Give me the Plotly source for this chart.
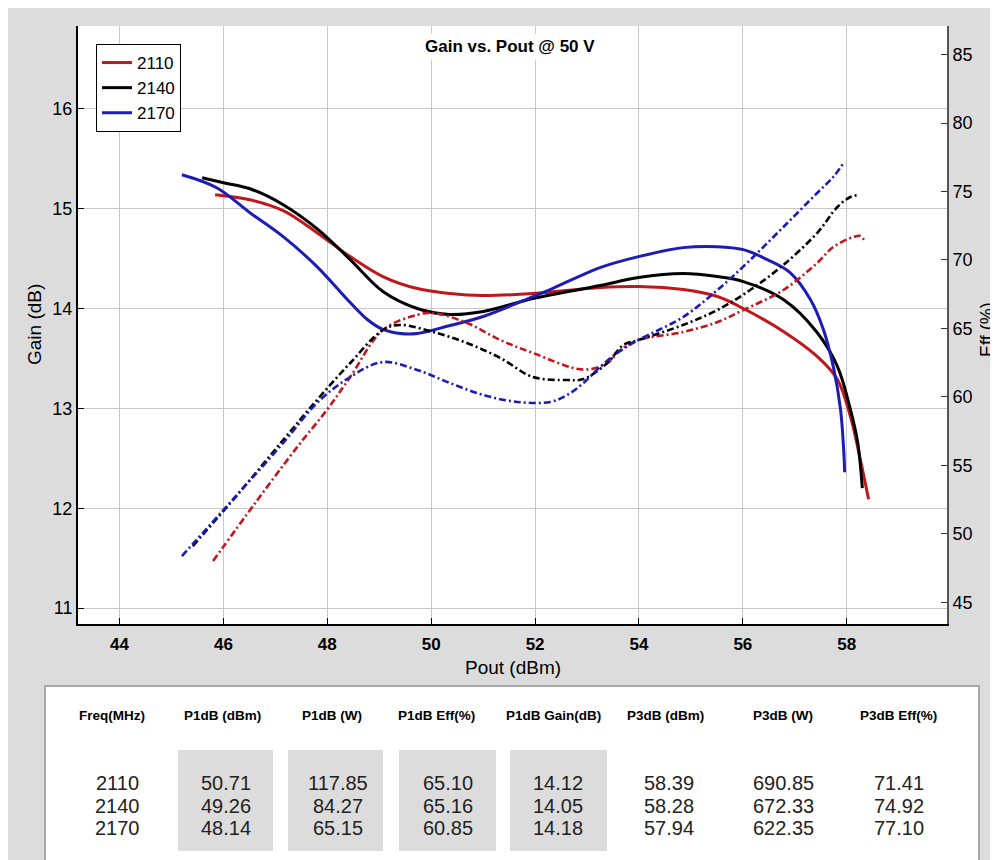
import plotly.graph_objects as go

# ---------------- data ----------------
freqs = ["2110", "2140", "2170"]

pout_gain_2110 = [45.84, 46.51, 47.15, 47.80, 48.44, 49.07, 49.73, 50.36, 51.00, 51.96, 53.25, 53.99,
                  54.85, 55.51, 56.01, 56.78, 57.43, 57.82, 58.07, 58.26, 58.42]
gain_2110 = [15.14, 15.09, 14.98, 14.76, 14.52, 14.32, 14.20, 14.15, 14.13, 14.15, 14.21, 14.22,
             14.19, 14.12, 14.00, 13.77, 13.52, 13.29, 12.92, 12.49, 12.09]

pout_gain_2140 = [45.59, 46.00, 46.51, 47.15, 47.80, 48.44, 49.07, 49.73, 50.36, 51.00, 51.96, 53.25,
                  53.99, 54.85, 55.51, 56.01, 56.78, 57.43, 57.82, 58.07, 58.21, 58.30]
gain_2140 = [15.31, 15.26, 15.20, 15.04, 14.80, 14.49, 14.17, 14.00, 13.94, 13.97, 14.10, 14.23,
             14.31, 14.35, 14.32, 14.27, 14.09, 13.76, 13.42, 12.99, 12.66, 12.20]

pout_gain_2170 = [45.20, 45.87, 46.51, 47.15, 47.80, 48.44, 48.77, 49.07, 49.40, 49.73, 50.36, 51.00,
                  51.96, 52.29, 53.25, 53.99, 54.85, 55.51, 56.01, 56.47, 56.91, 57.30, 57.55, 57.74,
                  57.88, 57.94, 57.96]
gain_2170 = [15.34, 15.21, 14.96, 14.72, 14.42, 14.06, 13.89, 13.79, 13.75, 13.75, 13.83, 13.92,
             14.12, 14.19, 14.41, 14.52, 14.61, 14.62, 14.59, 14.49, 14.36, 14.09, 13.79, 13.42,
             12.99, 12.59, 12.36]

pout_eff_2110 = [45.80, 46.60, 47.42, 47.99, 48.44, 49.07, 49.73, 50.04, 50.69, 51.33, 51.96, 52.93,
                 53.39, 53.64, 53.99, 54.85, 55.51, 56.01, 56.78, 57.43, 57.74, 58.13, 58.26, 58.36]
eff_2110 = [48.03, 52.2, 56.35, 59.05, 61.46, 64.89, 65.99, 66.13, 65.40, 64.16, 63.21, 62.00,
            62.48, 63.43, 64.16, 64.74, 65.47, 66.35, 67.81, 69.78, 70.95, 71.68, 71.75, 71.31]

pout_eff_2140 = [45.41, 46.30, 47.15, 47.80, 48.44, 49.07, 49.40, 50.04, 50.69, 51.33, 51.96, 52.62,
                 52.93, 53.39, 53.70, 53.99, 54.85, 55.51, 56.14, 56.78, 57.43, 57.82, 58.07, 58.21]
eff_2140 = [49.12, 53.0, 56.86, 59.78, 62.48, 64.89, 65.26, 64.74, 63.94, 62.85, 61.46, 61.24,
            61.31, 62.48, 63.80, 64.16, 65.26, 66.35, 67.81, 69.64, 71.97, 73.87, 74.60, 74.74]

pout_eff_2170 = [45.20, 46.20, 47.15, 47.80, 48.44, 49.07, 49.73, 50.36, 51.00, 51.66, 52.29, 52.62,
                 52.93, 53.25, 53.58, 53.99, 54.85, 55.51, 56.14, 56.78, 57.43, 57.74, 57.94]
eff_2170 = [48.39, 52.6, 56.64, 59.56, 61.46, 62.55, 61.97, 61.02, 60.15, 59.64, 59.64, 60.15,
            61.02, 62.19, 63.21, 64.16, 65.84, 67.81, 70.00, 72.41, 74.89, 76.06, 77.08]

x_ticks = [44, 46, 48, 50, 52, 54, 56, 58]
gain_ticks = [11, 12, 13, 14, 15, 16]
eff_ticks = [45, 50, 55, 60, 65, 70, 75, 80, 85]

table_headers = ["Freq(MHz)", "P1dB (dBm)", "P1dB (W)", "P1dB Eff(%)", "P1dB Gain(dB)",
                 "P3dB (dBm)", "P3dB (W)", "P3dB Eff(%)"]
p1db_dbm = ["50.71", "49.26", "48.14"]
p1db_w = ["117.85", "84.27", "65.15"]
p1db_eff = ["65.10", "65.16", "60.85"]
p1db_gain = ["14.12", "14.05", "14.18"]
p3db_dbm = ["58.39", "58.28", "57.94"]
p3db_w = ["690.85", "672.33", "622.35"]
p3db_eff = ["71.41", "74.92", "77.10"]

# ---------------- styling ----------------
RED = "#c2161c"
BLACK = "#000000"
BLUE = "#1c1cb6"
colors = [RED, BLACK, BLUE]
FONT = "Liberation Sans, Arial, sans-serif"

OFF = 8                      # browser body margin
W, H = 998 - OFF, 860 - OFF
PL, PR, PT, PB = 78, 947, 26, 624   # plot area in screen pixels
L, T = PL - OFF, PT - OFF
R = W - (PR - OFF)
B = H - (PB - OFF)
PW, PH = PR - PL, PB - PT


def px(xs):
    return (xs - PL) / PW


def py(ys):
    return (PB - ys) / PH


fig = go.Figure()

gain_x = [pout_gain_2110, pout_gain_2140, pout_gain_2170]
gain_y = [gain_2110, gain_2140, gain_2170]
eff_x = [pout_eff_2110, pout_eff_2140, pout_eff_2170]
eff_y = [eff_2110, eff_2140, eff_2170]

for i, f in enumerate(freqs):
    fig.add_trace(go.Scatter(x=gain_x[i], y=gain_y[i], mode="lines", name=f,
                             line=dict(color=colors[i], width=3, shape="spline", smoothing=1.0)))
for i, f in enumerate(freqs):
    fig.add_trace(go.Scatter(x=eff_x[i], y=eff_y[i], mode="lines", name=f + " eff", showlegend=False,
                             yaxis="y2",
                             line=dict(color=colors[i], width=2.6, dash="7px,3px,2px,3px",
                                       shape="spline", smoothing=1.0)))

shapes = []
# table box
shapes.append(dict(type="rect", xref="paper", yref="paper", x0=px(45), x1=px(979), y0=py(686), y1=py(880),
                   fillcolor="white", line=dict(color="#a8a8a8", width=2), layer="above"))
cell_cols = [(178, 273), (288, 383), (399, 496), (510, 607)]
for x0, x1 in cell_cols:
    shapes.append(dict(type="rect", xref="paper", yref="paper", x0=px(x0), x1=px(x1), y0=py(750), y1=py(851),
                       fillcolor="#dcdcdc", line=dict(width=0), layer="above"))

annotations = []
annotations.append(dict(text="<b>Gain vs. Pout @ 50 V</b>", xref="paper", yref="paper", x=px(510), y=py(47),
                        showarrow=False, font=dict(family=FONT, size=17, color="black"),
                        bgcolor="white", borderpad=3, xanchor="center", yanchor="middle"))
annotations.append(dict(text="Gain (dB)", xref="paper", yref="paper", x=px(34), y=py(325), textangle=-90,
                        showarrow=False, font=dict(family=FONT, size=19, color="black"),
                        xanchor="center", yanchor="middle"))
annotations.append(dict(text="Eff (%)", xref="paper", yref="paper", x=px(987), y=py(330), textangle=-90,
                        showarrow=False, font=dict(family=FONT, size=18, color="black"),
                        xanchor="center", yanchor="middle"))
annotations.append(dict(text="Pout (dBm)", xref="paper", yref="paper", x=px(513), y=py(667),
                        showarrow=False, font=dict(family=FONT, size=19, color="black"),
                        xanchor="center", yanchor="middle"))

header_x = [112, 222, 332, 436, 553, 665, 783, 898]
value_x = [117, 226, 338, 448, 558, 669, 783, 899]
row_y = [783, 806, 828]
columns = [freqs, p1db_dbm, p1db_w, p1db_eff, p1db_gain, p3db_dbm, p3db_w, p3db_eff]
for hx, h in zip(header_x, table_headers):
    annotations.append(dict(text="<b>" + h + "</b>", xref="paper", yref="paper", x=px(hx), y=py(716),
                            showarrow=False, font=dict(family=FONT, size=13.5, color="black"),
                            xanchor="center", yanchor="middle"))
for vx, col in zip(value_x, columns):
    for ry, v in zip(row_y, col):
        annotations.append(dict(text=v, xref="paper", yref="paper", x=px(vx), y=py(ry),
                                showarrow=False, font=dict(family=FONT, size=20, color="#222222"),
                                xanchor="center", yanchor="middle"))

fig.update_layout(
    width=W, height=H,
    margin=dict(l=L, r=R, t=T, b=B, pad=0),
    paper_bgcolor="#dcdcdc",
    plot_bgcolor="white",
    font=dict(family=FONT, color="black"),
    showlegend=True,
    legend=dict(x=px(96), y=py(44), xanchor="left", yanchor="top",
                bgcolor="white", bordercolor="black", borderwidth=1,
                font=dict(family=FONT, size=17, color="black"),
                tracegroupgap=0, itemwidth=30),
    xaxis=dict(range=[43.2, 59.93], tickvals=x_ticks, ticktext=[str(t) for t in x_ticks],
               showgrid=True, gridcolor="#c8c8c8", gridwidth=1,
               showline=True, linecolor="black", linewidth=2,
               ticks="inside", ticklen=6, tickcolor="black", tickwidth=1,
               tickfont=dict(family=FONT, size=17, color="black", weight="bold"),
               ticklabelstandoff=4, zeroline=False, mirror=False),
    yaxis=dict(range=[10.84, 16.83], tickvals=gain_ticks,
               showgrid=True, gridcolor="#c8c8c8", gridwidth=1,
               showline=True, linecolor="black", linewidth=2,
               ticks="inside", ticklen=6, tickcolor="black", tickwidth=1,
               tickfont=dict(family=FONT, size=18, color="black"), zeroline=False),
    yaxis2=dict(range=[43.43, 87.08], tickvals=eff_ticks, overlaying="y", side="right",
                showgrid=False, showline=True, linecolor="#555555", linewidth=2,
                ticks="inside", ticklen=6, tickcolor="#333333", tickwidth=1,
                tickfont=dict(family=FONT, size=18, color="black"), zeroline=False),
    shapes=shapes,
    annotations=annotations,
)

fig.write_html("out.html")
